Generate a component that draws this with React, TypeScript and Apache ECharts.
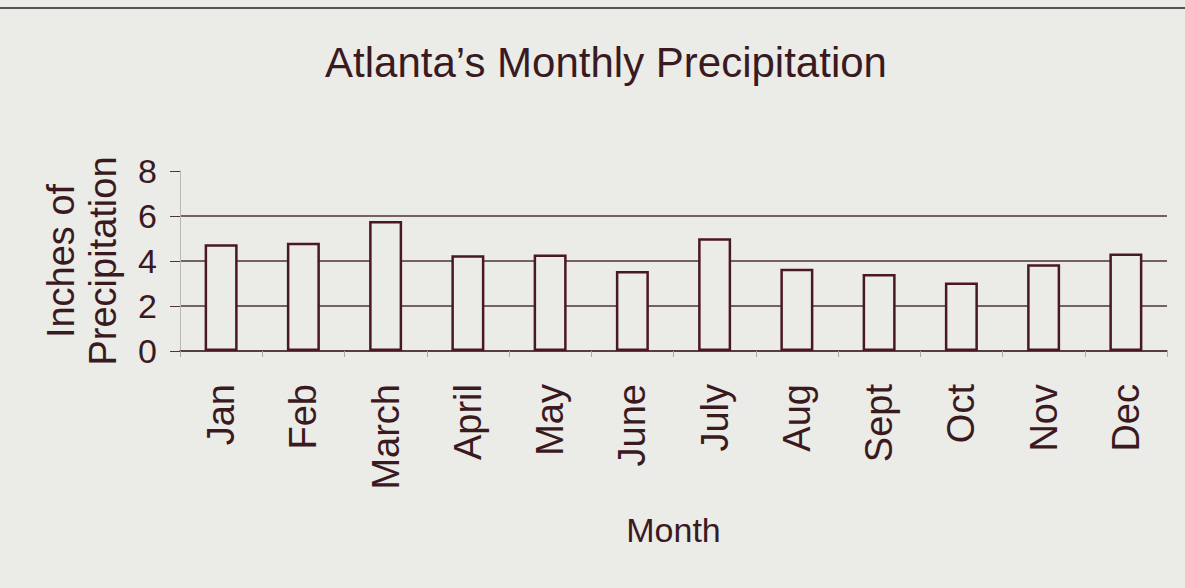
import React, { useEffect, useRef } from "react";
import * as echarts from "echarts";

const months = ["Jan", "Feb", "March", "April", "May", "June", "July", "Aug", "Sept", "Oct", "Nov", "Dec"];
const precipitation = [4.75, 4.81, 5.78, 4.26, 4.29, 3.56, 5.01, 3.66, 3.42, 3.05, 3.86, 4.33];
const yTicks = [0, 2, 4, 6, 8];

const BG = "#ebebe8";
const INK = "#3a1a1f";
const BAR = "#4a1822";
const GRID = "#4e3338";
const FONT = "'Liberation Sans', Arial, Helvetica, sans-serif";

export default function App() {
  const ref = useRef<HTMLDivElement>(null);
  useEffect(() => {
    if (!ref.current) return;
    const chart = echarts.init(ref.current, undefined, { renderer: "svg" });
    chart.setOption({
      animation: false,
      backgroundColor: BG,
      title: {
        text: "Atlanta\u2019s Monthly Precipitation",
        left: 601,
        top: 36,
        textAlign: "center",
        textStyle: { fontFamily: FONT, fontSize: 42, fontWeight: "normal", color: INK },
      },
      graphic: [
        {
          type: "line",
          shape: { x1: 0, y1: 8, x2: 1185, y2: 8 },
          style: { stroke: "#555", lineWidth: 2 },
        },
      ],
      grid: { left: 180, right: 18, top: 171, bottom: 237 },
      xAxis: {
        type: "category",
        data: months,
        axisLine: { show: true, lineStyle: { color: GRID, width: 1.5 } },
        axisTick: { show: true, length: 6, lineStyle: { color: "#aaa" } },
        axisLabel: {
          rotate: 90,
          margin: 33,
          fontFamily: FONT,
          fontSize: 38,
          color: INK,
        },
        name: "Month",
        nameLocation: "middle",
        nameGap: 162,
        nameTextStyle: { fontFamily: FONT, fontSize: 34, color: INK },
      },
      yAxis: {
        type: "value",
        min: yTicks[0],
        max: yTicks[yTicks.length - 1],
        interval: 2,
        axisLine: { show: true, lineStyle: { color: "#bdb6b6", width: 1 } },
        axisTick: { show: true, inside: false, length: 10, lineStyle: { color: GRID } },
        splitLine: { show: true, showMaxLine: false, lineStyle: { color: GRID, width: 1.5 } },
        axisLabel: { margin: 23, fontFamily: FONT, fontSize: 34, color: INK },
        name: "Inches of\nPrecipitation",
        nameLocation: "middle",
        nameGap: 56,
        nameRotate: 90,
        nameTextStyle: { fontFamily: FONT, fontSize: 38, lineHeight: 42, color: INK, align: "center" },
      },
      series: [
        {
          type: "bar",
          data: precipitation,
          barWidth: 33,
          itemStyle: { color: BG, borderColor: BAR, borderWidth: 2.5 },
        },
      ],
    });
    return () => chart.dispose();
  }, []);
  return <div ref={ref} style={{ position: "fixed", left: 0, top: 0, width: 1185, height: 588 }} />;
}
